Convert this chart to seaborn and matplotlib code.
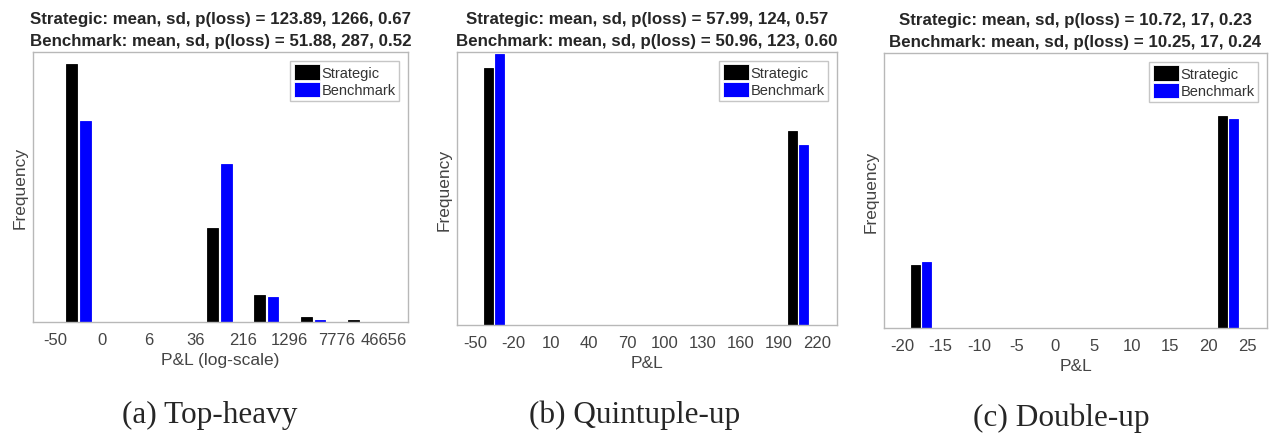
import numpy as np
import pandas as pd
import matplotlib
matplotlib.use('Agg')
import matplotlib.pyplot as plt
import seaborn as sns

# ---- data (proportion of contests per P&L bin) ----
series = ['Strategic', 'Benchmark']

edges_a = ['-50', '0', '6', '36', '216', '1296', '7776', '46656']
strat_a = [0.67, 0.0, 0.0, 0.243, 0.070, 0.013, 0.005]
bench_a = [0.52, 0.0, 0.0, 0.409, 0.065, 0.005, 0.001]
title_a = ['Strategic: mean, sd, p(loss) = 123.89, 1266, 0.67',
           'Benchmark: mean, sd, p(loss) = 51.88, 287, 0.52']

edges_b = ['-50', '-20', '10', '40', '70', '100', '130', '160', '190', '220']
strat_b = [0.57, 0, 0, 0, 0, 0, 0, 0, 0.43]
bench_b = [0.60, 0, 0, 0, 0, 0, 0, 0, 0.40]
title_b = ['Strategic: mean, sd, p(loss) = 57.99, 124, 0.57',
           'Benchmark: mean, sd, p(loss) = 50.96, 123, 0.60']

edges_c = ['-20', '-15', '-10', '-5', '0', '5', '10', '15', '20', '25']
strat_c = [0.23, 0, 0, 0, 0, 0, 0, 0, 0.77]
bench_c = [0.24, 0, 0, 0, 0, 0, 0, 0, 0.76]
title_c = ['Strategic: mean, sd, p(loss) = 10.72, 17, 0.23',
           'Benchmark: mean, sd, p(loss) = 10.25, 17, 0.24']

xlabels = ['P&L (log-scale)', 'P&L', 'P&L']
captions = ['(a) Top-heavy', '(b) Quintuple-up', '(c) Double-up']
ymax = [0.70, 0.605, 1.0]

sns.set_style('white')
plt.rcParams['font.family'] = ['Liberation Sans', 'DejaVu Sans']

palette = {'Strategic': '#000000', 'Benchmark': '#0000ff'}

fig = plt.figure(figsize=(12.77, 4.35), dpi=100)
positions = [[0.0258, 0.2575, 0.2937, 0.6205],
             [0.3579, 0.2506, 0.2975, 0.6274],
             [0.6923, 0.2437, 0.2999, 0.6322]]
caption_xy = [(0.164, 0.046), (0.497, 0.046), (0.831, 0.039)]

panels = [(edges_a, strat_a, bench_a, title_a),
          (edges_b, strat_b, bench_b, title_b),
          (edges_c, strat_c, bench_c, title_c)]

for i, (edges, strat, bench, title) in enumerate(panels):
    ax = fig.add_axes(positions[i])
    nbins = len(strat)
    df = pd.DataFrame({'bin': list(range(nbins)) * 2,
                       'freq': list(strat) + list(bench),
                       'series': ['Strategic'] * nbins + ['Benchmark'] * nbins})
    sns.barplot(data=df, x='bin', y='freq', hue='series', hue_order=series,
                palette=palette, width=0.58, gap=0.2, saturation=1,
                edgecolor=None, linewidth=0.6, ax=ax, legend=True)
    for bars, s in zip(ax.containers, series):
        for b in bars:
            b.set_edgecolor(palette[s])
    ax.set_xticks(np.arange(len(edges)) - 0.5)
    ax.set_xticklabels(edges, fontsize=12, color='#444444')
    ax.set_xlim(-0.97, nbins + 0.02)
    ax.set_ylim(0, ymax[i])
    ax.set_yticks([])
    ax.tick_params(axis='x', length=0, pad=7)
    ax.set_xlabel(xlabels[i], fontsize=12.5, color='#444444', labelpad=4)
    ax.set_ylabel('Frequency', fontsize=12.5, color='#444444', labelpad=4)
    ax.set_title('\n'.join(title), fontsize=12.2, fontweight='bold',
                 linespacing=1.6, pad=5)
    for sp in ax.spines.values():
        sp.set_color('#b8b8b8')
        sp.set_linewidth(1.0)
    leg = ax.legend(loc='upper right', fontsize=10.5, frameon=True, fancybox=False,
                    edgecolor='#b8b8b8', handlelength=1.8, handleheight=1.25,
                    handletextpad=0.1, labelspacing=0.12, borderpad=0.25,
                    borderaxespad=0.6)
    leg.get_frame().set_linewidth(1.0)
    for t in leg.get_texts():
        t.set_color('#333333')
    fig.text(caption_xy[i][0], caption_xy[i][1], captions[i], ha='center',
             va='center', fontsize=22.5, family=['Liberation Serif', 'DejaVu Serif'])

fig.savefig('out.png', dpi=100)
